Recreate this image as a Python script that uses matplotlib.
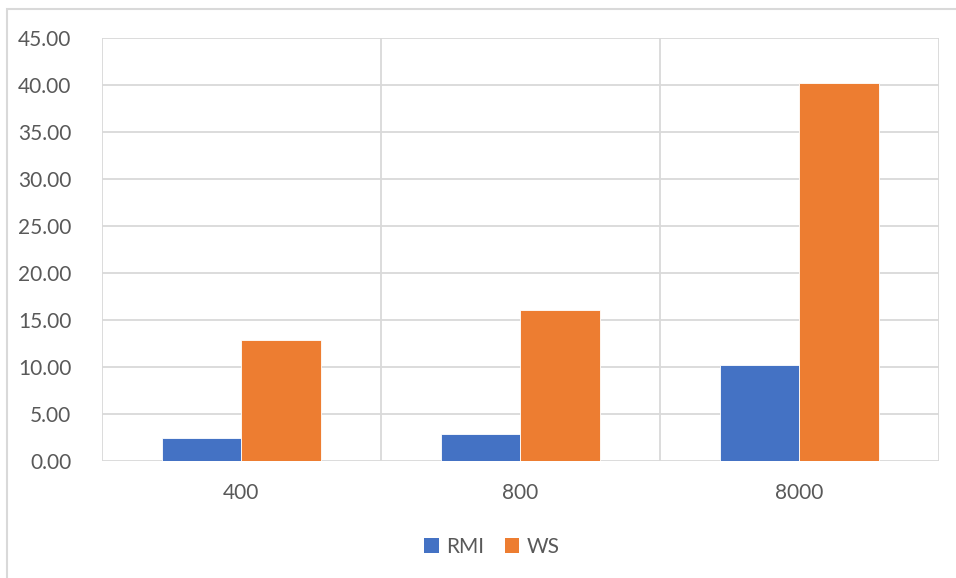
import matplotlib
matplotlib.use("Agg")
import matplotlib.pyplot as plt
from matplotlib.patches import Rectangle, Patch
import numpy as np

categories = ["400", "800", "8000"]
series_names = ["RMI", "WS"]
rmi_values = [2.42, 2.85, 10.18]
ws_values = [12.82, 16.0, 40.18]
y_ticks = [0, 5, 10, 15, 20, 25, 30, 35, 40, 45]

colors = ["#4472C4", "#ED7D31"]
grid_color = "#D9D9D9"
text_color = "#595959"

plt.rcParams["font.family"] = ["Lato", "DejaVu Sans"]

fig = plt.figure(figsize=(9.56, 5.78), dpi=100)
fig.patch.set_facecolor("white")

# chart-area frame (left and top edges visible)
fig.patches.append(Rectangle((7 / 956, -0.1), 1.2, 1 - 9 / 578 + 0.1,
                             transform=fig.transFigure, fill=False,
                             edgecolor=grid_color, linewidth=1.5, zorder=0))

ax = fig.add_axes([101.7 / 956, 1 - 460.7 / 578, 837 / 956, 423 / 578])
ax.set_facecolor("white")

x = np.arange(len(categories))
width = 0.285
ax.bar(x - width / 2, rmi_values, width, color=colors[0],
       edgecolor="white", linewidth=0.6, zorder=3)
ax.bar(x + width / 2, ws_values, width, color=colors[1],
       edgecolor="white", linewidth=0.6, zorder=3)

ax.set_xlim(-0.5, len(categories) - 0.5)
ax.set_ylim(0, 45)

for yv in y_ticks:
    ax.axhline(yv, color=grid_color, linewidth=1.3, zorder=1)
for xv in np.arange(-0.5, len(categories), 1.0):
    ax.axvline(xv, color=grid_color, linewidth=1.3, zorder=1)

for s in ax.spines.values():
    s.set_visible(False)

ax.set_yticks(y_ticks)
ax.set_yticklabels([f"{v:.2f}" for v in y_ticks])
ax.set_xticks(x)
ax.set_xticklabels(categories)
ax.tick_params(axis="both", length=0, labelsize=15, labelcolor=text_color)
ax.tick_params(axis="y", pad=22)
ax.tick_params(axis="x", pad=16)

handles = [Patch(facecolor=c, edgecolor="none") for c in colors]
fig.legend(handles, series_names, loc="center", ncol=2,
           bbox_to_anchor=(492 / 956, 1 - 547 / 578), frameon=False,
           fontsize=15, labelcolor=text_color, handlelength=0.7,
           handleheight=0.7, handletextpad=0.35, columnspacing=1.0)

fig.savefig("out.png", dpi=100, facecolor="white")
